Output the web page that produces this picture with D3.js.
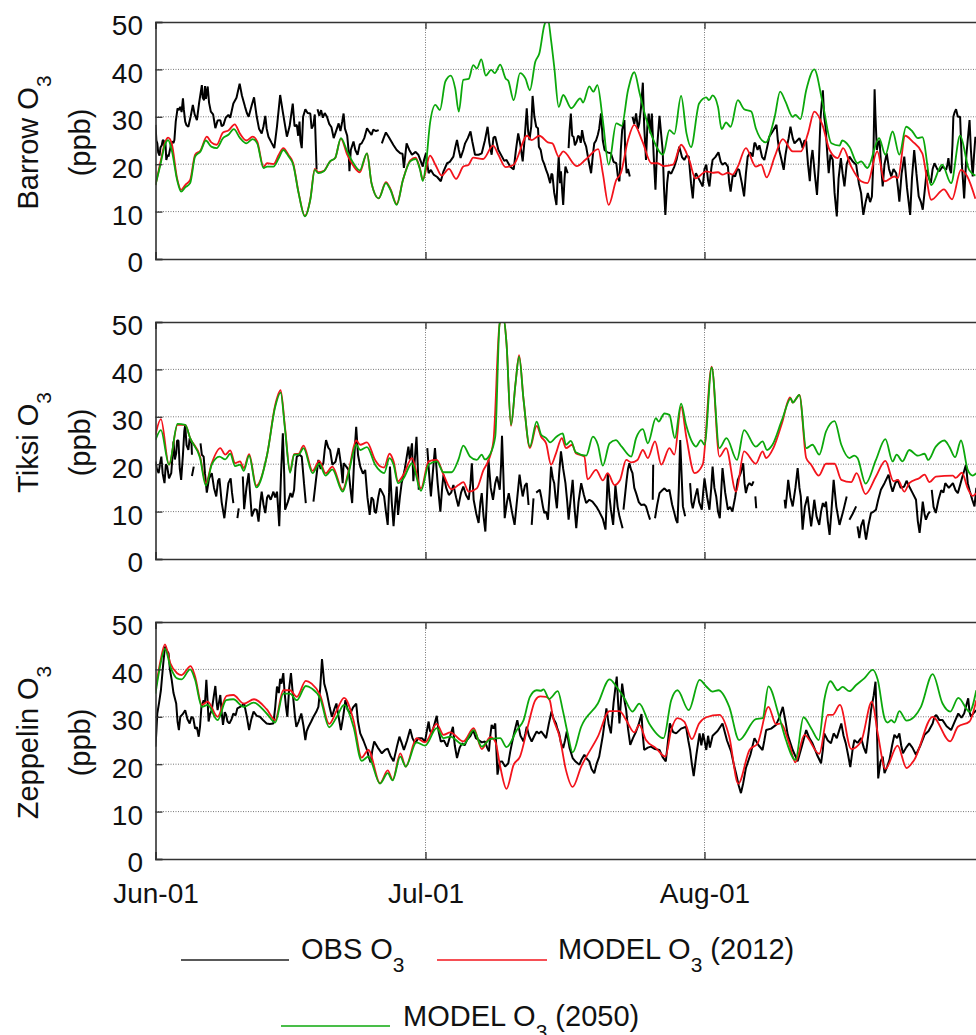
<!DOCTYPE html>
<html>
<head>
<meta charset="utf-8">
<script src="https://cdn.jsdelivr.net/npm/d3@7"></script>
<style>
  html, body { margin: 0; padding: 0; background: #fff; overflow: hidden; }
  text { font-family: "Liberation Sans", Arial, sans-serif; fill: #111; }
</style>
</head>
<body>
<div id="chart"></div>
<script>
// every series is [day since Jun-01, ppb], null marks a gap in the record
var barrowObs = [[0,28.3],[.1,25],[.2,24.4],[.3,22.5],[.45,21.8],[.55,23.5],[.7,24],[.8,25],[.9,25.1],[1,23.5],[1.1,24.8],[1.2,20.9],[1.35,22],[1.45,21.6],[1.6,23],[1.8,24.8],[2,24.5],[2.1,25.1],[2.25,29],[2.45,31.8],[2.6,31.4],[2.75,32.1],[2.9,31],[3.05,33.9],[3.15,31.5],[3.3,29],[3.45,28.2],[3.65,27.9],[3.9,30],[4.15,32.5],[4.35,30.5],[4.6,29.3],[4.85,33],[5.15,36.7],[5.25,34],[5.4,33.5],[5.5,36.5],[5.6,33.8],[5.8,36.4],[5.95,33],[6.15,31.1],[6.4,30.5],[6.65,27.6],[6.9,29.2],[7.2,29.3],[7.35,28],[7.55,28.3],[7.8,29.8],[8.1,30.4],[8.3,29.8],[8.65,32.8],[9,34],[9.35,37],[9.6,34.5],[9.95,32.1],[10.15,30.8],[10.35,30],[10.7,32.5],[10.95,34.1],[11.1,32],[11.25,30],[11.5,27.5],[11.8,26.5],[12,28],[12.2,30.2],[12.35,27.5],[12.55,25.8],[12.9,24.5],[13.2,23.4],[13.5,28],[13.85,34.6],[14.15,31],[14.6,25.8],[14.9,28],[15.25,32.8],[15.45,28],[15.7,28.3],[15.85,26],[16,29],[16.1,25],[16.25,23.4],[16.4,30],[16.65,31.6],[16.9,30.8],[17.2,30.7],[17.35,27.5],[17.55,28.3],[17.7,30.5],[17.9,18.9],null,[18,31.6],[18.2,30.2],[18.4,31.4],[18.6,29.8],[18.8,30.8],[19.05,30],[19.3,28.5],[19.55,27.8],[19.8,25.5],[20.1,27.2],[20.35,28.6],[20.55,27],[20.75,29],[20.9,30.7],[21.05,27.5],[21.3,26],[21.45,23],[21.55,18.5],[21.7,23],[22,24.8],[22.2,23],[22.45,22],[22.7,24.2],[22.9,24.4],[23.2,25.5],[23.5,27.6],[23.7,27],[24,26.2],[24.2,27.3],[24.5,27],[24.8,27.2],null,[25.15,24.4],[25.35,25.5],[25.6,26.7],[25.9,25.8],[26.45,24],[26.8,23],[27.2,22.3],[27.45,22.2],[27.6,19.2],[27.9,24.4],[28.2,23],[28.5,22],[28.9,22.6],[29.2,22],[29.5,20.5],[29.7,19.5],[29.85,21],[30.05,22.3],[30.2,20],[30.35,18.1],[30.6,18.8],[30.9,17.8],[31.3,17.3],[31.7,16.4],[32,18.5],[32.4,20.2],[32.7,20.5],[33.1,21.6],[33.3,23.5],[33.5,25.1],[33.7,23],[33.9,21.3],[34.2,23],[34.4,24.4],[34.7,25.5],[35,26.9],[35.2,24.8],[35.5,22],[35.9,22],[36.25,22.3],[36.6,25],[36.9,27.9],[37.1,24.5],[37.35,22],[37.55,25.6],[37.75,25.8],[38.1,23],[38.5,21.6],[38.75,20.7],[39,20.9],[39.4,19.5],[39.8,18.9],[40.05,23],[40.3,26.5],[40.55,24],[40.8,20.6],[41,25],[41.25,31.8],[41.4,27],[41.55,25.1],[41.75,28],[41.9,34.4],[42.1,30],[42.3,27.9],[42.5,27.6],[42.6,23.7],[42.8,23],[43,20.9],[43.2,20],[43.4,18.8],[43.6,17.8],[43.85,16],[44,18],[44.1,17.8],[44.3,14],[44.55,11.4],[44.7,18],[44.8,21.6],[44.95,16],[45.05,18.5],[45.2,14],[45.3,11.4],[45.45,17],[45.55,19.5],[45.8,18.1],null,[45.9,23.4],[46,27],[46.15,30.7],[46.3,26],[46.45,25.8],[46.6,24],[46.8,24.8],[46.95,26],[47.1,25.8],[47.25,24.5],[47.4,27.2],[47.6,25],[47.85,23.7],[48.1,21],[48.4,18.1],[48.6,22],[48.75,24.4],[48.95,25],[49.15,26.2],[49.3,27.5],[49.5,30.7],[49.7,25],[49.9,23],[50.2,22.5],[50.6,22.3],[50.9,20.5],[51.2,20.2],[51.4,17],[51.55,16.4],[51.7,23],[51.85,27.2],[52.1,29.3],[52.2,22],[52.35,18.1],[52.5,19],[52.7,17.4],null,[53,30],[53.2,28.5],[53.4,30.7],[53.6,27.5],[53.75,28.6],[53.95,32],[54.15,37.2],[54.3,28],[54.5,20.9],[54.65,28],[54.8,30.7],[55,26.5],[55.15,30.7],[55.35,22],[55.55,14.6],[55.75,24],[56,30.2],[56.2,26],[56.35,23],[56.5,15],[56.65,9.3],[56.85,16],[57,18.5],[57.3,18],[57.65,19.5],[57.9,21],[58.2,23.7],[58.5,21.5],[58.75,20.9],[59,21.8],[59.25,21.6],[59.5,16],[59.7,12.8],[59.85,17],[60.05,18.1],[60.4,16.8],[60.8,15.3],[61,19],[61.2,19.9],[61.4,16.5],[61.55,15.3],[61.75,19],[61.9,20.9],[62.2,21.5],[62.55,22.5],[62.8,20.5],[63,19.9],[63.3,20.3],[63.6,19.5],[63.75,16],[63.9,14.2],[64.15,17.8],[64.4,17.4],[64.65,19],[64.85,18.8],[65.15,16],[65.4,13.2],[65.6,18],[65.8,21.6],[66.1,22.5],[66.35,21.6],[66.55,24.5],[66.65,24.4],[66.9,23],[67.1,24],[67.4,21.5],[67.65,20.9],[67.95,23.5],[68.2,25.8],[68.6,27],[69,28.3],[69.15,25],[69.3,23],[69.55,21],[69.8,18.8],[70,22],[70.15,23.7],[70.35,25.5],[70.55,27.9],[70.8,25.5],[71,24.4],[71.3,25],[71.55,25.5],[71.75,24.5],[71.9,23.4],[72.1,25],[72.3,24.8],[72.5,20],[72.7,16.4],[72.85,21],[73,23],[73.25,18],[73.5,13.5],[73.7,20],[73.9,30],[74.15,35.6],[74.3,30],[74.45,27.9],[74.65,22],[74.8,18.1],[75,22],[75.25,20.9],[75.45,14],[75.7,9],[75.9,17],[76.15,21.3],[76.35,18],[76.55,15.3],[76.8,20],[77.1,21.6],[77.5,20.5],[77.85,19.9],[78.15,16],[78.4,13.9],[78.55,11],[78.65,9.3],[78.9,12],[79.15,13.9],[79.4,12],[79.6,13.2],[79.75,20],[79.9,35.8],[80,30],[80.15,23],[80.3,24.5],[80.45,25],[80.65,19],[80.8,15.3],[81,20],[81.25,22.3],[81.5,19],[81.75,17.4],[82,19],[82.3,18.1],[82.5,15],[82.65,12.1],[82.9,18],[83.2,21.6],[83.5,15],[83.85,9.3],[84.05,17],[84.3,23],[84.55,18],[84.8,13.2],[85.05,12],[85.25,10.4],[85.5,15],[85.7,18.8],[85.95,17],[86.15,16],[86.35,19],[86.55,20.2],[86.85,19],[87.1,18.5],[87.45,19.5],[87.85,18.8],[88,20],[88.1,21.3],[88.25,19],[88.4,18.1],[88.55,24],[88.65,30],[88.8,31],[88.95,31.6],[89.15,30],[89.4,30],[89.6,20],[89.85,12.8],[90.1,22],[90.45,29.3],[90.6,23],[90.8,17.4],[90.95,22],[91.1,25.8]];

var barrow2012 = [[0,15.6],[.5,20],[1.1,24.8],[1.4,25.6],[1.8,24.4],[2.4,17],[2.85,14.6],[3.3,15.6],[3.85,16.7],[4.4,22],[5,22.9],[5.7,25.8],[6.2,24.6],[6.8,24.1],[7.5,26.7],[8.1,27.1],[8.8,28.4],[9.4,26.4],[10.1,25],[10.8,25.8],[11.3,24.8],[12,19.5],[12.4,20.2],[13.1,20],[13.7,22],[14.2,23.4],[14.8,21.9],[15.3,20.2],[15.9,14],[16.6,9.1],[17.2,12.6],[17.7,19],[18.1,18.3],[18.7,18.6],[19.4,20.6],[19.96,21.3],[20.6,25.4],[21.3,22],[22,19.6],[22.7,18.3],[23.5,22.3],[24,16],[24.8,12.8],[25.6,16.2],[26.1,14.8],[26.8,11.6],[27.5,16.7],[28.3,20.8],[28.9,21.4],[29.4,19],[29.7,16.7],[30.5,21.8],[31.1,19.9],[31.8,17.6],[32.6,19],[33.4,16.9],[34.2,19.5],[34.8,19.9],[35.3,21.4],[36.4,21.1],[37.5,23.9],[38.1,22],[38.9,19.4],[39.8,19.9],[41.3,26],[41.8,25.1],[42.65,26],[43.6,24.6],[44.1,24.4],[44.8,21.6],[45.3,22.7],[46.8,19.6],[47.8,21],[49.2,23.2],[49.7,18.1],[50.35,11.4],[51.2,16.7],[51.7,18.1],[52.5,25.1],[53.2,28.3],[54.1,24.8],[55.1,20.2],[55.8,20.2],[56.5,19.6],[57.5,19.9],[58.4,24.1],[59.3,20.9],[60,17],[61.2,18.5],[61.9,18.2],[62.5,18.3],[63,17.8],[63.6,18.2],[64.1,17.8],[64.7,19.5],[65.6,23.4],[66.7,19.5],[67.3,19.9],[67.9,17.2],[68.8,21.6],[69.7,25.3],[70.8,22.7],[71.7,22.7],[72.5,26.5],[73.2,31.1],[74.1,28.3],[74.9,23],[75.8,21.3],[76.4,23.4],[77.3,19.5],[78.4,16.4],[79.1,16],[80.2,22.7],[81,16.4],[82.1,17.4],[82.5,17.1],[83.3,26],[84.1,24.8],[85.2,22.3],[86.2,12.5],[87.6,14.7],[88.5,12.6],[89.5,18.8],[90.2,17.4],[91.1,12.7]];

var barrow2050 = [[0,15.6],[.5,19.5],[1.1,24.4],[1.4,25.1],[1.8,23],[2.4,16.7],[2.85,14.2],[3.3,15.1],[3.85,16],[4.4,21.6],[5,22.7],[5.6,25],[6.2,23.7],[6.8,23.4],[7.5,25.5],[8.1,26.2],[8.7,27.4],[9.4,25.5],[10.1,24.4],[10.8,25.3],[11.3,24.4],[12,19.2],[12.4,19.5],[13.1,19.5],[13.7,21.3],[14.2,23],[14.8,21.6],[15.3,19.9],[15.9,13.9],[16.6,9],[17.2,12.5],[17.7,18.8],[18.1,18.1],[18.7,18.5],[19.4,20.6],[19.96,21.3],[20.6,25.5],[21.3,22.7],[22,20.2],[22.7,18.7],[23.5,22.3],[24,16],[24.8,12.8],[25.6,16],[26.1,14.6],[26.8,11.4],[27.5,16.7],[28.3,20.6],[28.9,21.1],[29.4,18.8],[29.7,16.5],[30.1,20.9],[30.5,28.6],[31.1,32.5],[31.6,31.4],[32.2,37.4],[32.8,38.7],[33.3,36],[33.7,31.1],[34.2,37.8],[34.8,38],[35.3,40.9],[35.7,40.2],[36.2,42.1],[36.7,38.7],[37.3,39.9],[37.7,39.2],[38.3,41],[38.9,38.1],[39.2,37.6],[39.8,33.5],[40.5,39.2],[41.1,38.1],[41.6,35.6],[42.2,41.6],[42.65,43.4],[43.2,49.3],[43.6,50.6],[43.95,46.2],[44.3,40.6],[44.8,32.1],[45.3,34.6],[46.2,31.8],[47.2,33.9],[47.5,33],[48.2,36.4],[48.65,35.3],[49.1,36.7],[49.7,29.3],[50.35,19.9],[51.2,28.6],[51.8,28.1],[52.5,35.6],[53.2,39.4],[53.8,34.9],[54.5,29.7],[55.4,24.8],[56.4,22],[57.1,27.2],[57.65,26.4],[58.4,34.4],[59,26.5],[59.5,23.6],[60.4,32.8],[61.2,34.1],[61.5,33.5],[61.9,34.5],[62.5,32.1],[62.9,27.4],[63.4,28.8],[63.9,27.9],[64.7,33.5],[65.4,31.6],[66.2,31.1],[66.7,27.6],[67.8,24.6],[68.8,30],[69.4,35.3],[70,33.2],[70.8,30],[71.1,30.4],[71.65,29.5],[72.3,35.6],[73.2,40],[74.1,33.2],[75.1,24.4],[76,23.9],[76.3,25],[77.1,23.7],[78,20.2],[78.4,20.6],[79.1,19.2],[80.4,25.5],[81.1,22],[81.9,26.9],[82.65,22],[83.4,27.9],[84.1,26.9],[84.7,25.5],[85.2,25.7],[86.2,15.6],[87.4,19.9],[88.4,16],[89.4,26],[90.4,18.8],[91.1,17.6]];

var tiksiObs = [[0,20.6],[.15,19],[.35,18.1],[.5,20],[.65,21.6],[.8,18],[1,16],[1.15,20],[1.3,19.5],[1.5,17],[1.75,18.1],[1.9,22],[2,24.8],[2.15,21],[2.3,22.3],[2.4,25],[2.55,25],[2.7,19],[2.85,16.7],[3.05,22],[3.2,27],[3.3,28.3],[3.45,24],[3.65,23],[3.8,25.5],[4,24.4],[4.05,22],null,[4.05,17.5],[4.25,19.5],null,[5,24.4],[5.15,22],[5.35,21.6],[5.5,18],[5.7,14],[5.95,17],[6.25,18.1],[6.5,15],[6.75,13.2],[6.95,16.5],[7.1,17],[7.35,12],[7.65,8.6],[7.85,12],[8.1,16],[8.35,17],[8.5,14],[8.65,11.8],null,[9.1,8.6],[9.25,10.7],null,[9.7,17.4],[9.85,10.5],[10.1,15],[10.35,18.1],[10.5,14],[10.7,9],[11,10.5],[11.25,10.4],[11.45,7.9],[11.65,12],[11.8,14.2],[12,11.5],[12.2,9.7],[12.4,13],[12.55,13.5],[12.8,12.5],[13.1,14.2],[13.3,13],[13.5,14.2],[13.65,10],[13.75,6.9],[13.95,18],[14.15,26.5],[14.3,18],[14.4,10.4],[14.7,12],[15,13.9],[15.2,13],[15.4,14.6],[15.55,19.2],[15.7,21.6],[16,22],[16.25,21.6],[16.5,16],[16.7,11.8],null,[17.55,12.1],[17.85,17],[18.1,20.9],[18.35,19],[18.65,20.2],[18.8,23],[18.95,25.1],[19.2,23.5],[19.4,23],[19.65,19.9],[20,20.5],[20.35,23.4],[20.6,20],[20.8,16],[20.9,20.2],[21.2,19.5],[21.45,18.8],[21.65,15],[21.85,11.8],[22.1,22],[22.3,27.9],[22.5,22],[22.75,19.5],[23.05,18],[23.3,18.8],[23.55,13],[23.8,9.3],[24,13],[24.2,12.5],[24.35,10],[24.5,9.7],[24.75,13],[24.95,14.9],[25.2,14],[25.4,13.2],[25.6,10],[25.8,7.2],[25.95,14],[26.05,19.5],[26.25,12],[26.45,6.9],[26.65,12],[26.8,15.3],[26.95,9.3],[27.15,13],[27.35,16],[27.7,19],[28.1,23.7],[28.25,21],[28.5,24.4],[28.65,16.4],[28.85,22],[29,25.8],[29.25,14.6],null,[30.2,23.4],[30.4,18],[30.6,13.2],[30.85,19],[31.05,23.4],[31.35,16],[31.65,10],[31.85,15],[32,17.8],[32.3,15],[32.6,13.5],[32.85,14],[33.1,15.6],[33.4,13],[33.65,11.1],[33.95,14],[34.2,15.3],[34.5,13.5],[34.8,12.5],[35,16],[35.15,20.2],[35.35,12.5],[35.65,9.5],[35.9,7.6],[36.1,12],[36.25,13.9],[36.45,9],[36.65,5.8],[36.85,14],[37,20.9],[37.25,15],[37.5,12.5],[37.75,16],[37.95,17.4],[38.25,14.6],[38.4,20],[38.5,26],[38.65,18],[38.8,8.6],[39.05,12],[39.25,13.9],[39.6,10],[39.9,7.2],[40.2,13],[40.45,17.8],[40.65,15],[40.8,13.2],[41.05,15.5],[41.25,16],[41.45,11.4],null,[41.8,7.2],[42,12.8],null,[42.3,14],[42.7,14.6],[42.85,13.2],[43.05,11],[43.2,9.7],[43.4,10],[43.6,8.3],[43.8,14],[43.95,19.5],[44.15,17],[44.3,16],[44.45,13],[44.6,10.7],[44.85,18],[45.05,22.7],[45.3,19],[45.55,16],[45.75,12],[45.9,8.3],[46.15,13],[46.35,16.7],[46.55,11],[46.75,6.5],[47,12],[47.3,16],[47.6,13.5],[47.85,11.8],[48.2,12.5],[48.55,12.1],[49,11],[49.3,10],[49.7,8.5],[50,6.2],[50.15,13],[50.25,18.1],[50.45,13],[50.6,10.4],[50.85,7.2],[51,12],[51.1,15.6],[51.35,11],[51.55,9],[51.9,6.5],null,[52,10.4],[52.2,14],[52.35,16.7],[52.5,19],[52.65,20.2],[52.85,18.8],[53,18.1],[53.2,15],[53.4,13.9],[53.7,12],[53.95,11.4],[54.3,11.5],[54.5,11.1],[54.75,9.5],[54.95,8.3],null,[55.25,12.5],[55.3,19.9],null,[55.5,8.6],[55.75,11.5],[56,13.9],[56.3,14.5],[56.55,14.9],[56.85,14.3],[57.1,14.6],[57.4,11.5],[57.65,9.7],[57.85,8.2],[58,7.6],[58.15,15],[58.3,25.1],[58.45,18],[58.6,11.1],[58.85,9],null,[59.4,16],[59.55,12],[59.7,10.7],[59.95,13],[60.2,14.9],[60.4,12],[60.7,10.4],[60.85,14],[61,17],[61.3,13],[61.55,10.4],[61.75,15],[61.9,19.5],[62.1,15],[62.3,13.2],[62.5,10],[62.7,8.6],[62.85,14],[63,19.2],[63.3,14],[63.6,10.4],[63.85,11],[64.1,10],[64.4,13],[64.7,16.7],[65,18],[65.3,20.2],[65.45,16],[65.6,13.9],[65.8,15.5],[66,16],[66.25,15.5],[66.45,16.4],null,[66.65,13.2],[66.75,10.7],null,[69.9,12.5],[70,10.7],[70.15,13.5],[70.3,16.7],[70.55,13],[70.8,11.1],[71.1,15],[71.35,19.2],[71.55,15],[71.7,13.2],[71.9,6.2],[72.15,11],[72.45,13.2],[72.65,10],[72.85,6.9],[73.05,10],[73.2,12.5],[73.45,9],[73.75,7.2],[73.95,10],[74.15,11.8],[74.35,11],[74.5,12.1],[74.7,8],[74.9,5.1],[75.1,10],[75.35,16.7],[75.65,11],[76,7.2],[76.4,10],[76.8,13.2],null,[77.1,8.3],[77.45,9.5],[77.85,11.1],null,[78,6.9],[78.2,4.4],[78.4,7],[78.65,8.3],[78.8,6],[78.95,4.1],[79.2,7],[79.5,9.7],[79.8,10],[80.05,10.4],[80.3,12.5],[80.6,14.6],[81,16],[81.45,17.8],[81.7,15.5],[81.9,14.2],[82.2,16],[82.45,16.7],[82.8,15],[83.2,15.3],[83.45,16.5],[83.75,15.3],[84.1,14],[84.5,12.5],[84.7,8],[84.9,5.5],[85.1,9],[85.25,12.1],[85.45,9.5],[85.6,8.3],[85.85,9.5],[86.05,10],null,[86.25,14.6],[86.45,11],[86.7,9.7],[87,12.5],[87.3,14.5],[87.55,14],[87.75,16],[88.15,15],[88.6,16],[88.9,14.5],[89.15,13.9],[89.6,17],[90.05,19.9],[90.25,16],[90.45,14.5],[90.75,12.5],[91,11.1],[91.2,15]];

var tiksi2012 = [[0,26.2],[.6,29.5],[1.5,19.9],[2.45,28.3],[3.3,28.3],[3.85,25.5],[4.95,21.6],[5.6,16],[6.25,20.2],[7.2,23.4],[7.75,22],[8.3,22.9],[8.85,20.2],[9.4,20.6],[9.8,19.2],[10.4,22.1],[11.2,15.5],[12.4,22],[13.3,32.5],[13.9,35.6],[14.4,27.6],[14.95,18.5],[15.4,22.1],[15.9,22.2],[16.45,23.9],[17.45,18.6],[18.2,20.7],[18.9,18.1],[19.65,19.5],[20.8,14.6],[21.45,18.5],[22.3,25],[22.75,24.1],[23.5,24.6],[24.4,20.9],[25,19.5],[25.4,19.3],[26,22.2],[26.45,20.6],[26.95,16.4],[27.55,17.8],[28.5,21.3],[29.5,14.9],[30.35,20.6],[31.25,20.9],[32,17.8],[32.9,14.7],[33.65,15.6],[34.2,16.2],[34.8,14.2],[35.7,14.9],[36.45,18.8],[37,20.8],[37.55,24.9],[38.25,49.7],[38.7,50.6],[39,45.5],[39.5,28.1],[40,37],[40.4,43],[40.9,33.5],[41.6,23.4],[42.35,28.1],[42.85,25.8],[43.4,24.4],[43.95,19.9],[44.5,22.3],[45.15,25.5],[45.6,23.4],[46.3,24.1],[46.7,22.3],[47.65,21.6],[48,16.8],[48.95,18.8],[49.7,16.6],[50.25,18.1],[51,15.6],[51.6,16.6],[52.3,20.9],[52.85,20.4],[53.55,20.9],[54.15,23],[54.7,21.3],[55.5,24.8],[56.2,19.9],[57.1,23.4],[57.65,22],[58.4,32.1],[59,25.5],[59.9,18.1],[60.8,19.9],[61.8,40.6],[62.65,21.6],[63.4,23.4],[64.5,14.2],[65.4,22.7],[66.7,20.1],[67.45,22.7],[67.85,21.3],[68.65,23.4],[69.6,28.6],[70.5,34.1],[70.8,33],[71.55,34.6],[72.3,21.3],[72.85,19.9],[73.7,17.6],[74.5,20.1],[75.45,20.1],[76.2,16.7],[77.3,16.2],[77.9,18.1],[78.9,13.7],[80.05,17.4],[81.1,20.7],[82,16.4],[82.5,16.7],[83.2,14.2],[83.75,16],[84.9,17.1],[85.45,17.8],[86,16.2],[86.7,17.4],[88.6,17.6],[88.9,17.1],[89.6,18.2],[90.25,14.9],[90.8,13.3],[91.2,13.9]];

var tiksi2050 = [[0,25.1],[.6,27.2],[1.5,19.9],[2.45,28.5],[3.3,28.3],[3.85,25.5],[4.95,21.3],[5.6,15.5],[6.25,19.9],[7.1,21.6],[7.75,21],[8.3,22.2],[8.85,19.6],[9.4,19.9],[9.8,18.6],[10.4,21.8],[11.2,15.1],[12.4,22],[13.3,32.1],[13.9,35.1],[14.4,27.2],[14.95,18.2],[15.4,22],[15.9,22],[16.45,23.4],[17.45,18.1],[18.2,20.1],[18.9,17.6],[19.65,18.9],[20.8,14.2],[21.45,18.1],[22.3,24.1],[22.75,23],[23.5,23.6],[24.4,19.9],[25,18.5],[25.4,18.1],[26,21.3],[26.45,19.9],[26.95,16],[27.55,17],[28.5,20.2],[29.5,14.4],[30.35,19.9],[31.25,20.6],[32,18.3],[32.9,18.3],[33.65,20.9],[34.2,23.9],[34.95,21.6],[35.7,20.9],[36.25,22],[36.6,21],[37.15,22],[37.75,25.8],[38.25,49.8],[38.7,50.6],[39,45.5],[39.5,28.3],[40,37],[40.4,42.7],[40.9,33.5],[41.6,23.7],[42.35,29],[42.85,26.2],[43.4,25.5],[43.85,24.6],[44.55,25.8],[45.25,26.5],[45.6,24.1],[46.15,24.9],[46.7,22.5],[47.85,21.8],[48.6,25.8],[49.15,24.1],[49.7,19.7],[50.45,24.4],[51.15,25.1],[51.8,23.7],[52.85,21.6],[53.4,25.5],[54.15,27.4],[54.7,24.4],[55.6,29.7],[55.9,29],[56.55,30.7],[57.1,30.4],[57.7,25.5],[58.4,32.8],[58.95,28.3],[59.7,24.4],[60.05,23.7],[60.6,25.1],[61,24.1],[61.8,40.4],[62.65,23.4],[63.45,25.5],[64.6,20.9],[65.4,27.2],[66.7,23.7],[67.45,24.8],[67.95,23],[68.55,24.1],[69.6,29.3],[70.6,33.9],[70.8,33],[71.55,34.6],[72.3,23.4],[73,24.1],[73.75,22],[74.5,26.9],[75.45,29.1],[76.2,24.1],[77.1,21.3],[77.65,21.8],[78,21.3],[78.9,15.9],[80.05,20.9],[81.1,25.3],[81.9,20.6],[82.35,22],[83,20.6],[83.75,23],[84.7,21.8],[85.45,22.2],[85.85,20.9],[86.7,23.7],[87.65,25],[88.2,23.7],[88.85,21.5],[89.5,25],[90.25,18.8],[90.8,17.6],[91.2,18.1]];

var zeppelinObs = [[0,23.7],[.1,27],[.2,30.7],[.4,33],[.6,35.6],[.85,41],[1.05,44.8],[1.25,44],[1.45,43.4],[1.6,40],[1.8,37.8],[2,35],[2.3,32.8],[2.45,29],[2.6,27.2],[2.75,30],[3,30.5],[3.3,31.4],[3.55,29.5],[3.8,28.6],[4,30],[4.2,29.7],[4.4,27.5],[4.6,27.8],[4.8,25.8],[4.95,28],[5.1,32.1],[5.35,33.5],[5.5,33],[5.65,37.8],[5.8,33],[5.9,29],[6.05,30.5],[6.25,31.4],[6.45,34],[6.65,36.5],[6.8,33],[6.9,31.4],[7.05,33],[7.2,34.6],[7.35,31],[7.5,28.3],[7.7,31],[7.85,30.4],[8,29],[8.2,28.6],[8.45,29.5],[8.65,30.7],[8.9,30.3],[9.1,31.8],[9.5,32.2],[9.85,32.8],[10.15,30],[10.4,27.2],[10.65,29.5],[10.9,31.1],[11.25,30.2],[11.6,30],[12,29.2],[12.35,28.6],[12.7,28.5],[13.1,28.6],[13.3,32],[13.5,36.4],[13.7,35],[13.85,38],[14,37],[14.2,39.2],[14.35,35],[14.5,32.1],[14.65,30],[14.85,36],[15.05,39.2],[15.25,35],[15.5,30],[15.65,27.9],[15.9,29],[16.2,30.7],[16.45,28],[16.65,25.1],[16.8,27],[17,27.9],[17.3,29],[17.55,30],[17.85,31],[18.1,32.1],[18.3,36],[18.5,42.2],[18.75,37],[19.05,34.9],[19.35,32],[19.6,30],[19.85,31.5],[20.1,32.8],[20.35,30],[20.6,27.2],[20.85,30],[21.1,33.5],[21.35,31.5],[21.65,30.7],[21.95,32],[22.3,32.8],[22.5,29],[22.75,26.5],[23.1,25],[23.5,23],[23.7,21.5],[23.9,20.4],[24.1,23],[24.3,24.8],[24.7,23.5],[25.15,22.3],[25.5,23],[25.8,23.3],[26.1,21.8],[26.45,20.6],[26.8,23.5],[27.1,25.8],[27.35,24.5],[27.6,23],[27.95,25],[28.3,27.4],[28.55,25.5],[28.85,24.4],[29.2,25.5],[29.6,25.5],[29.95,24.8],[30.15,27],[30.35,29],[30.5,27],[30.7,26.5],[31,28.5],[31.25,30.2],[31.45,27],[31.7,24.8],[32.05,25],[32.4,23.7],[32.75,26],[33.05,27.9],[33.25,24],[33.5,21.3],[33.8,23.5],[34.05,24.4],[34.35,24],[34.6,25.1],[35,26],[35.3,27.2],[35.6,25.5],[35.9,25.1],[36.25,24.6],[36.6,24.8],[36.85,23.5],[37.05,22.7],[37.2,26],[37.35,28.3],[37.55,27.5],[37.75,28.6],[37.9,22],[38,17.8],[38.25,20.5],[38.5,20.6],[38.85,19.5],[39.2,20.2],[39.4,22.5],[39.6,24.4],[39.9,27],[40.2,29.3],[40.55,26],[40.9,24.8],[41.1,26.5],[41.25,27.9],[41.5,26],[41.8,24.8],[42.1,26],[42.35,26.9],[42.6,26.5],[42.85,26.9],[43.1,26.3],[43.4,25.5],[43.7,28.5],[44,31.1],[44.25,29.5],[44.5,28.6],[44.65,27.5],[44.85,26.5],[45.05,24.5],[45.3,23.4],[45.5,25],[45.7,26.9],[46,23.5],[46.35,21.3],[46.7,20.5],[47.1,19.9],[47.35,21],[47.65,22],[47.9,21.2],[48.2,20.6],[48.45,19],[48.75,18.1],[49,20],[49.3,21.6],[49.7,26],[50.1,31.8],[50.35,28.5],[50.6,26.5],[50.9,33],[51.25,38.5],[51.4,33],[51.55,28.6],[51.7,33],[51.85,37],[52.1,33.5],[52.3,31.4],[52.5,27.5],[52.75,24.1],[53.05,25.5],[53.4,26.9],[53.7,28.5],[54,30.6],[54.15,26],[54.3,23],[54.7,23.5],[55.05,23.7],[55.5,23.2],[56,23],[56.35,21.5],[56.7,20.6],[56.95,25],[57.15,28.6],[57.5,26.8],[57.85,26.5],[58.4,27.5],[58.95,27.9],[59.2,25],[59.4,23],[59.6,20],[59.8,17.5],[60.1,22],[60.45,26.5],[60.65,24],[60.85,26.5],[61.2,23],[61.4,26],[61.6,23.5],[61.9,26],[62.45,27],[63,28.6],[63.5,25],[63.95,22.7],[64.25,20],[64.5,18.1],[64.8,15.5],[65.05,13.9],[65.3,16],[65.6,19.2],[66.1,22],[66.55,25.5],[67,24],[67.45,23],[67.65,25],[67.85,27.2],[68.4,27.5],[68.95,28.3],[69.35,30],[69.7,32.1],[70,29],[70.25,26.2],[70.8,23],[71.35,20.6],[71.85,24],[72.3,27.2],[72.65,25.5],[73,24.4],[73.5,22],[73.95,20.2],[74.15,23],[74.3,26.5],[74.7,25],[75.05,24.4],[75.35,26.5],[75.7,25.5],[76.2,28.6],[76.45,26],[76.7,24.4],[76.95,22],[77.2,19.4],[77.45,23],[77.65,25.1],[78,24.5],[78.4,25.5],[78.7,23.5],[78.95,22.3],[79.25,27],[79.5,31.4],[79.8,34.5],[80,37.4],[80.15,28],[80.3,17],[80.55,20.5],[80.8,21.6],[81,18.1],[81.3,19.5],[81.55,20.9],[81.85,24],[82.1,26.2],[82.4,25.5],[82.65,26.5],[82.85,24],[83.05,22.3],[83.4,23.5],[83.75,24.4],[84.1,23.5],[84.5,22],[85,24],[85.45,26.2],[85.9,27],[86.35,28.6],[86.55,30],[86.75,30.4],[87.1,29.3],[87.45,29.3],[87.9,28],[88.4,27.2],[88.8,29],[89.2,30.7],[89.55,29.8],[89.85,30.7],[90.1,32.5],[90.3,33.9],[90.45,31],[90.6,30],[90.9,30.8],[91.2,31.4]];

var zeppelin2012 = [[0,35.6],[.5,41.3],[1.05,45.3],[1.65,41.3],[2.4,39.2],[2.9,38.8],[3.9,40.7],[4.4,38.5],[5.15,32.5],[5.8,33.2],[6.9,30],[7.9,34.4],[8.65,34.6],[9.8,32.8],[10.95,33.7],[12.35,31.6],[13.3,29.3],[14.2,35.6],[14.95,35.6],[15.7,34.2],[16.7,37.6],[17.35,37],[18.3,34.6],[19.3,28.5],[20.15,31.4],[20.95,34],[22,29.3],[22.9,21.4],[23.65,23],[24.95,16],[25.8,18.7],[26.35,16.7],[27.2,22.3],[27.8,19.5],[29,25.5],[29.95,24.6],[31.25,28.5],[32,26.2],[32.75,26.7],[34.2,24.8],[35.35,27.6],[36.25,23.2],[37.2,25.7],[37.75,24.8],[38.3,19.5],[39,14.8],[39.8,19.9],[40.5,21.6],[41.45,28.6],[42.2,33.5],[42.75,34.3],[43.4,34.2],[43.8,33.5],[44.15,30],[44.9,25.8],[45.6,18.8],[46.35,15.2],[47.3,19.5],[49.15,25.8],[50.45,31.2],[51.55,31.2],[52.3,29.3],[53.2,26.7],[53.75,28.3],[54.5,25.1],[55.6,23.4],[56.65,21.6],[57.3,27.2],[58,29.7],[58.75,29],[59.6,25.3],[60.4,28.6],[61.2,29.9],[62.65,30.4],[63.75,25.8],[64.75,15.9],[66,23],[66.9,24.4],[68.1,32.1],[68.95,28.4],[69.5,28.6],[70.4,24.4],[71.1,20.4],[72.1,26.2],[73.75,22.2],[74.7,30.4],[75.25,30.4],[76.05,32.5],[77.3,23.2],[78.4,24.8],[79.6,33.2],[80.25,26.5],[81.1,19],[82.45,23.9],[83.45,19.2],[84.3,20.9],[86.35,30],[88.3,24.8],[89.15,27.9],[90.45,29],[91.2,33.5]];

var zeppelin2050 = [[0,34.9],[.5,40.6],[1.05,44.4],[1.65,40.6],[2.4,38.1],[2.9,37.9],[3.85,40],[4.4,37.8],[5.15,32.1],[5.8,32.5],[6.9,29.3],[7.85,33.5],[8.65,33.7],[9.8,32.1],[10.9,33],[12.35,30.7],[13.3,28.8],[14.2,34.9],[14.95,34.9],[15.7,33.5],[16.7,36.5],[17.35,36],[18.3,33.9],[19.3,27.8],[20.15,30],[20.95,32.5],[22,27.9],[22.9,20.7],[23.65,21.6],[24.95,15.9],[25.8,18.1],[26.35,16.6],[27.2,21.6],[27.8,19.5],[29,24.6],[29.95,23.9],[31.25,27.6],[32,25.5],[32.75,25.8],[34.2,24.1],[35.35,27.2],[36.25,23.7],[37.2,25.3],[38.3,25.5],[39,23.6],[40.15,27.2],[40.9,29.3],[41.6,34.2],[42.35,35.6],[42.85,35.5],[43.1,35.8],[43.75,33.8],[44.7,35.4],[45.25,31.4],[45.8,26.5],[46.35,22.5],[47.3,27.9],[49.15,32.8],[50.45,37.9],[51.2,36.4],[52.1,33.9],[53,31.1],[53.75,32.8],[54.85,28.6],[56.45,25.5],[57.3,33.5],[58,35.6],[59.25,31.4],[60.45,37.8],[61.2,36.4],[61.9,35.3],[62.55,35.6],[63.75,32.1],[64.85,25.1],[66.7,29.5],[67.45,29.7],[68.1,36.4],[69.3,30],[70.05,25.1],[71.1,20.9],[72,29.9],[72.85,27.6],[73.7,25.1],[74.3,33.5],[75,37.5],[75.8,35.6],[76.35,36.3],[77.1,35.4],[77.85,36.7],[78.75,38.1],[79.7,39.9],[80.25,37.8],[81,29.7],[81.35,28.8],[81.75,29.3],[82.1,28.8],[82.65,31.2],[83.45,29.2],[84.3,30],[85.05,32.1],[86.35,39],[87.45,32.8],[88.3,31.1],[89.2,34],[90.45,31.1],[91.2,35.6]];

var panelNames = ["Barrow", "Tiksi", "Zeppelin"];
var obsSeries = [barrowObs, tiksiObs, zeppelinObs];
var model2012 = [barrow2012, tiksi2012, zeppelin2012];
var model2050 = [barrow2050, tiksi2050, zeppelin2050];

var yTicks = [0, 10, 20, 30, 40, 50];
var xTickDays = [0, 30, 61];
var xTickLabels = ["Jun-01", "Jul-01", "Aug-01"];
var xMaxDay = 92; // Sep-01, falls just off the page

var panelTops = [22, 322, 622];
var panelH = 237;
var left = 155.5;
var pxPerDay = 9;

var svg = d3.select("#chart")
  .append("svg")
  .attr("width", 976)
  .attr("height", 1035);

var x = d3.scaleLinear().domain([0, xMaxDay]).range([left, left + xMaxDay * pxPerDay]);
var y = d3.scaleLinear().domain([0, 50]).range([panelH, 0]);

var obsLine = d3.line()
  .defined(function(d){ return d !== null; })
  .x(function(d){ return x(d[0]); })
  .y(function(d){ return y(d[1]); });

var modelLine = d3.line()
  .x(function(d){ return x(d[0]); })
  .y(function(d){ return y(d[1]); })
  .curve(d3.curveMonotoneX);

svg.append("clipPath").attr("id", "plot-clip")
  .append("rect")
  .attr("x", left).attr("y", 0)
  .attr("width", xMaxDay * pxPerDay).attr("height", panelH);

// text with a lowered "3" inside it
function labelO3(sel, before, after) {
  sel.append("tspan").text(before + "O");
  sel.append("tspan").attr("dy", 13).attr("font-size", "0.72em").text("3");
  if (after) sel.append("tspan").attr("dy", -13).text(after);
}

panelNames.forEach(function(name, i){
  var g = svg.append("g").attr("transform", "translate(0," + panelTops[i] + ")");

  // dotted grid
  g.selectAll("line.gy").data(yTicks.slice(1, -1)).enter().append("line")
    .attr("x1", left).attr("x2", x(xMaxDay))
    .attr("y1", function(d){ return y(d); }).attr("y2", function(d){ return y(d); })
    .attr("stroke", "#777").attr("stroke-width", 1).attr("stroke-dasharray", "1,1.5");
  g.selectAll("line.gx").data(xTickDays.slice(1)).enter().append("line")
    .attr("x1", function(d){ return x(d); }).attr("x2", function(d){ return x(d); })
    .attr("y1", 0).attr("y2", panelH)
    .attr("stroke", "#777").attr("stroke-width", 1).attr("stroke-dasharray", "1,1.5");

  // series
  var plot = g.append("g").attr("clip-path", "url(#plot-clip)");
  plot.append("path").datum(obsSeries[i]).attr("d", obsLine)
    .attr("fill", "none").attr("stroke", "#000").attr("stroke-width", 2)
    .attr("stroke-linejoin", "bevel");
  plot.append("path").datum(model2012[i]).attr("d", modelLine)
    .attr("fill", "none").attr("stroke", "#f3141c").attr("stroke-width", 1.8);
  plot.append("path").datum(model2050[i]).attr("d", modelLine)
    .attr("fill", "none").attr("stroke", "#0ca80c").attr("stroke-width", 1.8);

  // axes, ticks point inward
  var yAxis = d3.axisLeft(y).tickValues(yTicks).tickSize(-7).tickPadding(12.5);
  var yAxisG = g.append("g").attr("transform", "translate(" + left + ",0)").call(yAxis);
  var yAxisR = d3.axisRight(y).tickValues(yTicks).tickSize(-7).tickFormat("");
  var yAxisRG = g.append("g").attr("transform", "translate(" + x(xMaxDay) + ",0)").call(yAxisR);
  var xAxis = d3.axisBottom(x).tickValues(xTickDays).tickSize(-7).tickPadding(24)
    .tickFormat(function(d, k){ return i == 2 ? xTickLabels[k] : ""; });
  var xAxisG = g.append("g").attr("transform", "translate(0," + panelH + ")").call(xAxis);
  var xAxisT = d3.axisTop(x).tickValues(xTickDays).tickSize(-7).tickFormat("");
  var xAxisTG = g.append("g").call(xAxisT);

  [yAxisG, yAxisRG, xAxisG, xAxisTG].forEach(function(a){
    a.selectAll(".domain").attr("stroke", "#333").attr("stroke-width", 1.6);
    a.selectAll(".tick line").attr("stroke", "#333").attr("stroke-width", 1.3);
    a.selectAll(".tick text").attr("font-size", 28).attr("font-family", null);
  });
  yAxisG.selectAll(".tick text").attr("dy", "0.46em");

  // y titles
  var t1 = g.append("text")
    .attr("transform", "translate(38," + (panelH / 2 + 2) + ") rotate(-90)")
    .attr("text-anchor", "middle").attr("font-size", 29);
  labelO3(t1, name + " ");
  g.append("text")
    .attr("transform", "translate(90," + (panelH / 2 + 2) + ") rotate(-90)")
    .attr("text-anchor", "middle").attr("font-size", 29).text("(ppb)");
});

// legend
var legendItems = [
  { before: "OBS ", after: "", color: "#222", x1: 181, x2: 289, ly: 960, tx: 301, ty: 959 },
  { before: "MODEL ", after: " (2012)", color: "#f3141c", x1: 437, x2: 547, ly: 960, tx: 558, ty: 959 },
  { before: "MODEL ", after: " (2050)", color: "#0ca80c", x1: 281, x2: 390, ly: 1026, tx: 403, ty: 1026 }
];
legendItems.forEach(function(d){
  svg.append("line")
    .attr("x1", d.x1).attr("x2", d.x2).attr("y1", d.ly).attr("y2", d.ly)
    .attr("stroke", d.color).attr("stroke-width", 1.6);
  var t = svg.append("text").attr("x", d.tx).attr("y", d.ty).attr("font-size", 29);
  labelO3(t, d.before, d.after);
});
</script>
</body>
</html>
